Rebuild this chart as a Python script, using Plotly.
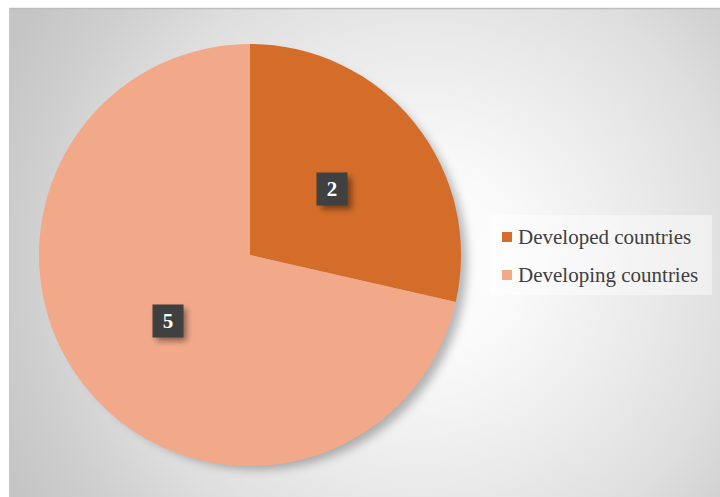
import base64
import math
import plotly.graph_objects as go

# Data
categories = ["Developed countries", "Developing countries"]
counts = [2, 5]
slice_colors = ["#D46D29", "#F2A98A"]

W, H = 720, 497
SERIF = "Liberation Serif, Times New Roman, serif"

# Pie geometry (pixels)
cx, cy, r = 250, 255, 211
dom_x = [(cx - r) / W, (cx + r) / W]
dom_y = [1 - (cy + r) / H, 1 - (cy - r) / H]


def svg_uri(body, defs=""):
    svg = (f"<svg xmlns='http://www.w3.org/2000/svg' width='{W}' height='{H}'>"
           f"<defs>{defs}</defs>{body}</svg>")
    return "data:image/svg+xml;base64," + base64.b64encode(svg.encode()).decode()


# Chart-area background: radial gradient with a soft shadow under the pie
bg_defs = (
    "<radialGradient id='g' gradientUnits='userSpaceOnUse' cx='420' cy='260' r='470'>"
    "<stop offset='0' stop-color='#ffffff'/><stop offset='0.2' stop-color='#fafafa'/>"
    "<stop offset='0.5' stop-color='#e9e9e9'/><stop offset='0.68' stop-color='#dedede'/>"
    "<stop offset='0.85' stop-color='#cfcfcf'/><stop offset='1' stop-color='#c5c5c5'/>"
    "</radialGradient>"
    "<filter id='b' x='-20%' y='-20%' width='140%' height='140%'><feGaussianBlur stdDeviation='5'/></filter>"
)
bg_body = (
    f"<rect x='0' y='0' width='{W}' height='{H}' fill='url(#g)'/>"
    f"<circle cx='{cx + 3}' cy='{cy + 3}' r='{r}' fill='rgba(0,0,0,0.28)' filter='url(#b)'/>"
)
bg_src = svg_uri(bg_body, bg_defs)

fig = go.Figure(go.Pie(
    labels=categories,
    values=counts,
    marker=dict(colors=slice_colors, line=dict(width=0)),
    sort=False,
    direction="clockwise",
    rotation=0,
    textinfo="none",
    hoverinfo="label+value",
    domain=dict(x=dom_x, y=dom_y),
    showlegend=False,
))

# Value labels in dark boxes at half radius along each slice's mid-angle
box_w, box_h = 30, 32
annotations = []
shadow_rects = []
total = sum(counts)
start = 0.0
for v in counts:
    mid = start + v / total * 360 / 2
    start += v / total * 360
    a = math.radians(mid)
    px = cx + 0.5 * r * math.sin(a)
    py = cy - 0.5 * r * math.cos(a)
    shadow_rects.append(
        f"<rect x='{px - box_w / 2 + 4}' y='{py - box_h / 2 + 4}' width='{box_w}' height='{box_h}' "
        f"fill='rgba(0,0,0,0.45)' filter='url(#s)'/>")
    annotations.append(dict(
        xref="paper", yref="paper", x=px / W, y=1 - py / H,
        xanchor="center", yanchor="middle",
        showarrow=False, width=box_w, height=box_h, borderpad=0,
        bgcolor="#404040", text=f"<b>{v}</b>",
        font=dict(family=SERIF, size=21, color="#ffffff")))

shadow_src = svg_uri("".join(shadow_rects),
                     "<filter id='s' x='-50%' y='-50%' width='200%' height='200%'>"
                     "<feGaussianBlur stdDeviation='3'/></filter>")

# Legend drawn as boxes and text from the category/colour arrays
leg_x0, leg_y0, leg_x1, leg_y1 = 490, 215, 712, 295
shapes = [
    dict(type="line", xref="paper", yref="paper", x0=9 / W, x1=1, y0=1 - 8.5 / H, y1=1 - 8.5 / H,
         line=dict(color="#bdbdbd", width=1.5)),
    dict(type="line", xref="paper", yref="paper", x0=9.5 / W, x1=9.5 / W, y0=0, y1=1 - 8 / H,
         line=dict(color="#c8c8c8", width=1)),
    dict(type="rect", xref="paper", yref="paper", x0=leg_x0 / W, x1=leg_x1 / W,
         y0=1 - leg_y1 / H, y1=1 - leg_y0 / H, fillcolor="rgba(255,255,255,0.45)", line=dict(width=0)),
]
row_y = [237, 275]
for name, col, yy in zip(categories, slice_colors, row_y):
    shapes.append(dict(type="rect", xref="paper", yref="paper",
                       x0=502 / W, x1=512 / W, y0=1 - (yy + 5) / H, y1=1 - (yy - 5) / H,
                       fillcolor=col, line=dict(width=0)))
    annotations.append(dict(xref="paper", yref="paper", x=516 / W, y=1 - yy / H,
                            xanchor="left", yanchor="middle", showarrow=False, text=name,
                            font=dict(family=SERIF, size=21, color="#404040")))

fig.update_layout(
    width=W, height=H,
    margin=dict(l=0, r=0, t=0, b=0),
    paper_bgcolor="#ffffff",
    images=[
        dict(source=bg_src, xref="paper", yref="paper",
             x=9 / W, y=1 - 8 / H, sizex=1 - 9 / W, sizey=1 - 8 / H,
             xanchor="left", yanchor="top", sizing="stretch", layer="below"),
        dict(source=shadow_src, xref="paper", yref="paper",
             x=0, y=1, sizex=1, sizey=1,
             xanchor="left", yanchor="top", sizing="stretch", layer="above"),
    ],
    shapes=shapes,
    annotations=annotations,
    showlegend=False,
)

fig.write_html("out.html")
